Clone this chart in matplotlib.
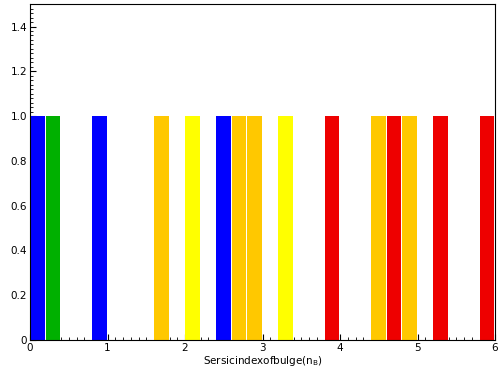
import numpy as np
import matplotlib
matplotlib.use('Agg')
import matplotlib.pyplot as plt
from matplotlib.ticker import MultipleLocator, FuncFormatter

#histogram bins (left edge of each 0.2 wide bin) and their counts
bin_left = [0.0, 0.2, 0.8, 1.6, 2.0, 2.4, 2.6, 2.8, 3.2, 3.8, 4.4, 4.6, 4.8, 5.2, 5.8]
counts = [1, 1, 1, 1, 1, 1, 1, 1, 1, 1, 1, 1, 1, 1, 1]
bar_colors = ['#0000ff', '#00b000', '#0000ff', '#ffc800', '#ffff00', '#0000ff', '#ffc800',
              '#ffc800', '#ffff00', '#ee0000', '#ffc800', '#ee0000', '#ffc800', '#ee0000', '#ee0000']
bar_width = 0.19

fig = plt.figure(figsize=(5, 3.74), dpi=100)
ax = fig.add_axes([0.06, 0.091, 0.93, 0.898])
ax.set_axisbelow(True)

ax.bar(bin_left, counts, width=bar_width, align='edge', color=bar_colors, linewidth=0)

ax.set_xlim(0, 6)
ax.set_ylim(0, 1.5)

#ticks pointing inwards with minor ticks
ax.xaxis.set_major_locator(MultipleLocator(1))
ax.xaxis.set_minor_locator(MultipleLocator(0.1))
ax.yaxis.set_major_locator(MultipleLocator(0.2))
ax.yaxis.set_minor_locator(MultipleLocator(0.02))
ax.tick_params(which='both', direction='in', labelsize=7.5, pad=2)
ax.tick_params(which='major', length=4, width=0.8)
ax.tick_params(which='minor', length=2, width=0.6)
ax.yaxis.set_major_formatter(FuncFormatter(lambda v, p: '0' if abs(v) < 1e-9 else f'{v:.1f}'))

for s in ax.spines.values():
    s.set_linewidth(0.8)

ax.set_xlabel('Sersicindexofbulge(n$_\\mathrm{B}$)', fontsize=7.5, labelpad=1)

fig.savefig('out.png', dpi=100)
